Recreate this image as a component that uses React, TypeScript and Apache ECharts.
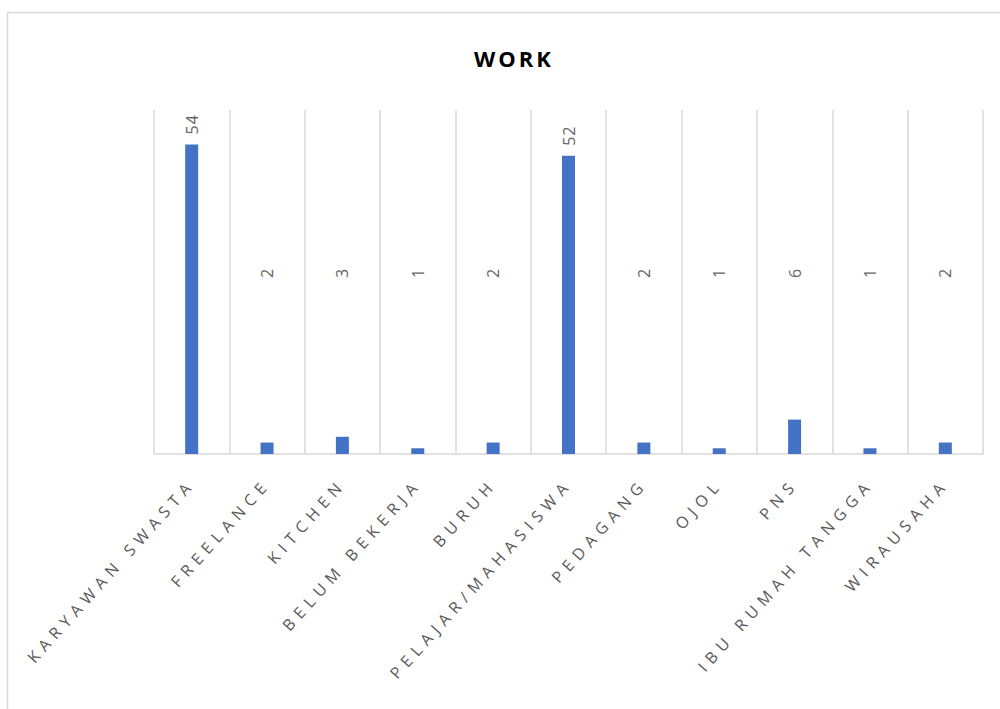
import React, { useEffect, useRef } from "react";
import * as echarts from "echarts";

const categories = [
  "KARYAWAN SWASTA",
  "FREELANCE",
  "KITCHEN",
  "BELUM BEKERJA",
  "BURUH",
  "PELAJAR/MAHASISWA",
  "PEDAGANG",
  "OJOL",
  "PNS",
  "IBU RUMAH TANGGA",
  "WIRAUSAHA",
];
const counts = [54, 2, 3, 1, 2, 52, 2, 1, 6, 1, 2];
const titleText = "WORK";

export default function App() {
  const ref = useRef<HTMLDivElement>(null);
  useEffect(() => {
    if (!ref.current) return;
    const chart = echarts.init(ref.current, undefined, { renderer: "svg" });
    const labelColor = "#595959";
    chart.setOption({
      animation: false,
      title: {
        text: titleText,
        left: 469,
        top: 42,
        textStyle: { fontSize: 22.01, fontWeight: "bold", color: "#000", fontFamily: "Open Sans" },
      },
      graphic: [
        {
          type: "rect",
          shape: { x: 7.5, y: 12.5, width: 1100, height: 800 },
          style: { fill: "none", stroke: "#d9d9d9", lineWidth: 1.5 },
          silent: true,
        },
      ],
      grid: { left: 154, right: 17, top: 110, bottom: 255, containLabel: false },
      xAxis: {
        type: "category",
        data: categories,
        boundaryGap: true,
        axisLine: { show: true, lineStyle: { color: "#d9d9d9", width: 1.5 } },
        axisTick: { show: false },
        splitLine: { show: true, lineStyle: { color: "#d9d9d9", width: 1.5 } },
        axisLabel: {
          interval: 0,
          rotate: 48,
          margin: 27,
          color: labelColor,
          fontSize: 16.01,
          fontFamily: "Open Sans",
        },
      },
      yAxis: {
        type: "value",
        min: 0,
        max: 60,
        show: false,
        splitLine: { show: false },
      },
      series: [
        {
          type: "bar",
          barWidth: 13,
          itemStyle: { color: "#4472C4" },
          data: counts.map((v) => ({
            value: v,
            label:
              v > 30
                ? { position: "top", distance: 10 }
                : { position: "insideBottom", distance: 176 },
          })),
          label: {
            show: true,
            rotate: 90,
            align: "left",
            verticalAlign: "middle",
            color: "#666666",
            fontSize: 16.01,
            fontFamily: "Open Sans",
          },
        },
      ],
    });
    return () => chart.dispose();
  }, []);
  return (
    <div style={{ position: "absolute", left: 0, top: 0, width: 1000, height: 709, background: "#fff" }}>
      <style>{`
        text[style*="16.01px"][text-anchor="end"] { letter-spacing: 6px; }
        text[style*="22.01px"] { letter-spacing: 3px; }
        text[style*="16.01px"][text-anchor="start"] { letter-spacing: 1px; }
      `}</style>
      <div ref={ref} style={{ width: 1000, height: 709 }} />
    </div>
  );
}
